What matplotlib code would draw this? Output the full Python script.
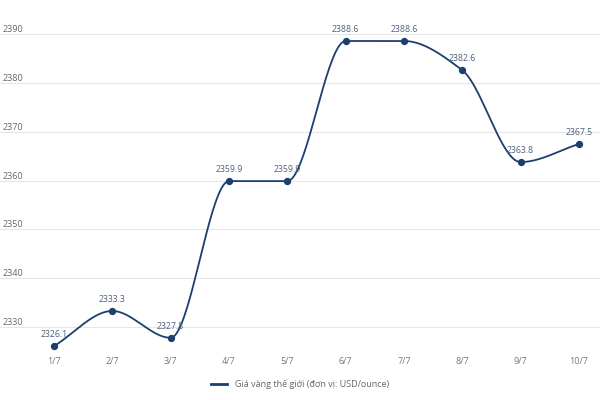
import numpy as np
import matplotlib.pyplot as plt
from matplotlib.lines import Line2D

ngay = ['1/7', '2/7', '3/7', '4/7', '5/7', '6/7', '7/7', '8/7', '9/7', '10/7']
gia_vang = [2326.1, 2333.3, 2327.8, 2359.9, 2359.9, 2388.6, 2388.6, 2382.6, 2363.8, 2367.5]
muc_y = [2330, 2340, 2350, 2360, 2370, 2380, 2390]

mau_duong = '#1c3f6e'
mau_chu = '#4d6080'

plt.rcParams['font.family'] = ['Open Sans', 'DejaVu Sans']


def duong_cong_don_dieu(x, y, n=40):
    # monotone cubic (Fritsch-Carlson) for the smooth line between points
    x = np.asarray(x, float)
    y = np.asarray(y, float)
    h = np.diff(x)
    d = np.diff(y) / h
    m = np.zeros_like(y)
    m[0], m[-1] = d[0], d[-1]
    for i in range(1, len(y) - 1):
        if d[i - 1] * d[i] <= 0:
            m[i] = 0
        else:
            w1 = 2 * h[i] + h[i - 1]
            w2 = h[i] + 2 * h[i - 1]
            m[i] = (w1 + w2) / (w1 / d[i - 1] + w2 / d[i])
    xs, ys = [], []
    for i in range(len(x) - 1):
        t = np.linspace(0, 1, n)
        h00 = 2 * t**3 - 3 * t**2 + 1
        h10 = t**3 - 2 * t**2 + t
        h01 = -2 * t**3 + 3 * t**2
        h11 = t**3 - t**2
        xs.append(x[i] + t * h[i])
        ys.append(h00 * y[i] + h10 * h[i] * m[i] + h01 * y[i + 1] + h11 * h[i] * m[i + 1])
    return np.concatenate(xs), np.concatenate(ys)


fig = plt.figure(figsize=(6, 4), dpi=100)
ax = fig.add_axes([0, 0.125, 1, 0.875])

x = np.arange(len(ngay))
xs, ys = duong_cong_don_dieu(x, gia_vang)
ax.plot(xs, ys, color=mau_duong, lw=1.3, zorder=3)
ax.scatter(x, gia_vang, s=18, color=mau_duong, zorder=4)

for xi, v in zip(x, gia_vang):
    ax.annotate(f'{v:.1f}', (xi, v), xytext=(0, 5), textcoords='offset points',
                ha='center', va='bottom', fontsize=6.3, color=mau_chu, zorder=5)

for m in muc_y:
    ax.axhline(m, color='#e6e6e6', lw=0.8, zorder=1)
    ax.text(0.005, m, str(m), transform=ax.get_yaxis_transform(), ha='left', va='bottom',
            fontsize=6.5, color='#666666')

ax.set_xlim(-0.926, 9.36)
ax.set_ylim(2325.3, 2397.0)
ax.set_xticks(x)
ax.set_xticklabels(ngay)
ax.tick_params(axis='x', length=0, pad=5, labelsize=6.5, labelcolor='#777777')
ax.set_yticks([])
for s in ax.spines.values():
    s.set_visible(False)

handle = Line2D([], [], color=mau_duong, lw=2)
fig.legend([handle], ['Giá vàng thế giới (đơn vị: USD/ounce)'], loc='center',
           bbox_to_anchor=(0.5, 0.04), frameon=False, fontsize=6.5, labelcolor='#666666',
           handlelength=1.8)

fig.savefig('out.png', dpi=100)
